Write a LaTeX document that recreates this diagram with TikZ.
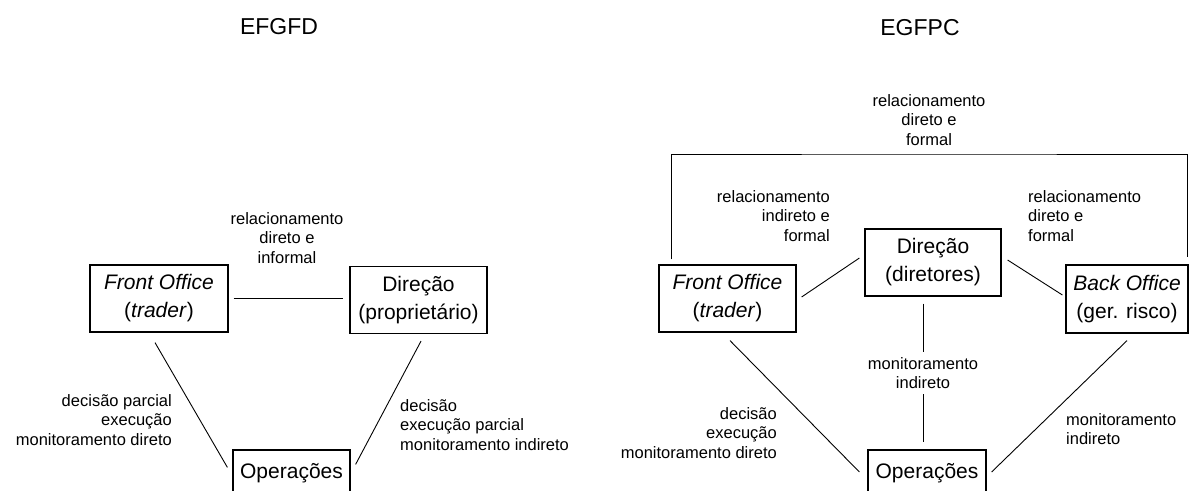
\documentclass[tikz,border=0pt]{standalone}
\usepackage{fontspec}
\setmainfont{Liberation Sans}
\usepackage{tikz}
\tikzset{
  box/.style={draw=black, line width=1.2pt, minimum height=67pt, inner sep=0pt,
              align=center, font=\fontsize{21}{28}\selectfont},
  ln/.style={draw=black, line width=0.9pt},                 % connector
  lbl/.style={inner sep=0pt, font=\fontsize{16.5}{19.5}\selectfont},
  ttl/.style={inner sep=0pt, font=\fontsize{23}{27}\selectfont},
}

\begin{document}
\begin{tikzpicture}[x=1pt, y=-1pt]
  \useasboundingbox (0,0) rectangle (1190,490);
  \clip (0,0) rectangle (1190,490);
  % EFGFD
  \node[ttl] (ttlA) at (279,27) {EFGFD};
  \node[box, minimum width=138pt] (foA)  at (159,298.5) {\textit{Front Office}\\(\textit{trader})};
  \node[box, minimum width=137pt] (dirA) at (418.5,300) {Direção\\(proprietário)};
  \node[box, minimum width=117pt, minimum height=46pt] (opA) at (291.5,473) {Operações};
  \node[lbl, align=center] (relA) at (287,238) {relacionamento\\direto e\\informal};
  \node[lbl, align=right, anchor=east] (decA) at (172,420) {decisão parcial\\execução\\monitoramento direto};
  \node[lbl, align=left, anchor=west] (decB) at (400,425) {decisão\\execução parcial\\monitoramento indireto};
  \draw[ln] ([shift={(5,0)}]foA.east) -- ([shift={(-6,-1.5)}]dirA.west);
  \draw[ln] ([shift={(-4,10)}]foA.south) -- ([shift={(-5,18)}]opA.north west);
  \draw[ln] ([shift={(2.5,7)}]dirA.south) -- ([shift={(5,15)}]opA.north east);
  % EGFPC
  \node[ttl] (ttlB) at (920,28) {EGFPC};
  \node[box, minimum width=137pt] (foB)  at (727.5,298.5) {\textit{Front Office}\\(\textit{trader})};
  \node[box, minimum width=136pt] (dirB) at (933,262.5) {Direção\\(diretores)};
  \node[box, minimum width=122pt, minimum height=68pt] (boB) at (1127,299) {\textit{Back Office}\\(ger. risco)};
  \node[box, minimum width=118pt, minimum height=46pt] (opB) at (927,473) {Operações};
  \node[lbl, align=center] (relB) at (929,120) {relacionamento\\direto e\\formal};
  \node[lbl, align=right, anchor=east] (relC) at (830,216) {relacionamento\\indireto e\\formal};
  \node[lbl, align=left, anchor=west] (relD) at (1028,216) {relacionamento\\direto e\\formal};
  \node[lbl, align=right, anchor=east] (decC) at (777,433) {decisão\\execução\\monitoramento direto};
  \node[lbl, align=left, anchor=west] (monB) at (1066,429) {monitoramento\\indireto};
  \coordinate (ridge) at (929,154);
  \draw[ln] ([shift={(13,-5)}]foB.north west) |- (ridge) -| ([shift={(-1,-7)}]boB.north east);
  \draw[ln] ([shift={(5,-1.5)}]foB.east) -- ([shift={(-5,-4.5)}]dirB.west);
  \draw[ln] ([shift={(6,-2.5)}]dirB.east) -- ([shift={(-3,-4)}]boB.west);
  \draw[ln] ([shift={(-10,7)}]dirB.south) -- node[lbl, align=center, fill=white, inner sep=5pt] (monA) {monitoramento\\indireto} ([shift={(-4,-7)}]opB.north);
  \draw[ln] ([shift={(2.5,8)}]foB.south) -- ([shift={(-8,-1)}]opB.west);
  \draw[ln] ([shift={(0,7)}]boB.south) -- ([shift={(5,-1)}]opB.east);
\end{tikzpicture}
\end{document}
